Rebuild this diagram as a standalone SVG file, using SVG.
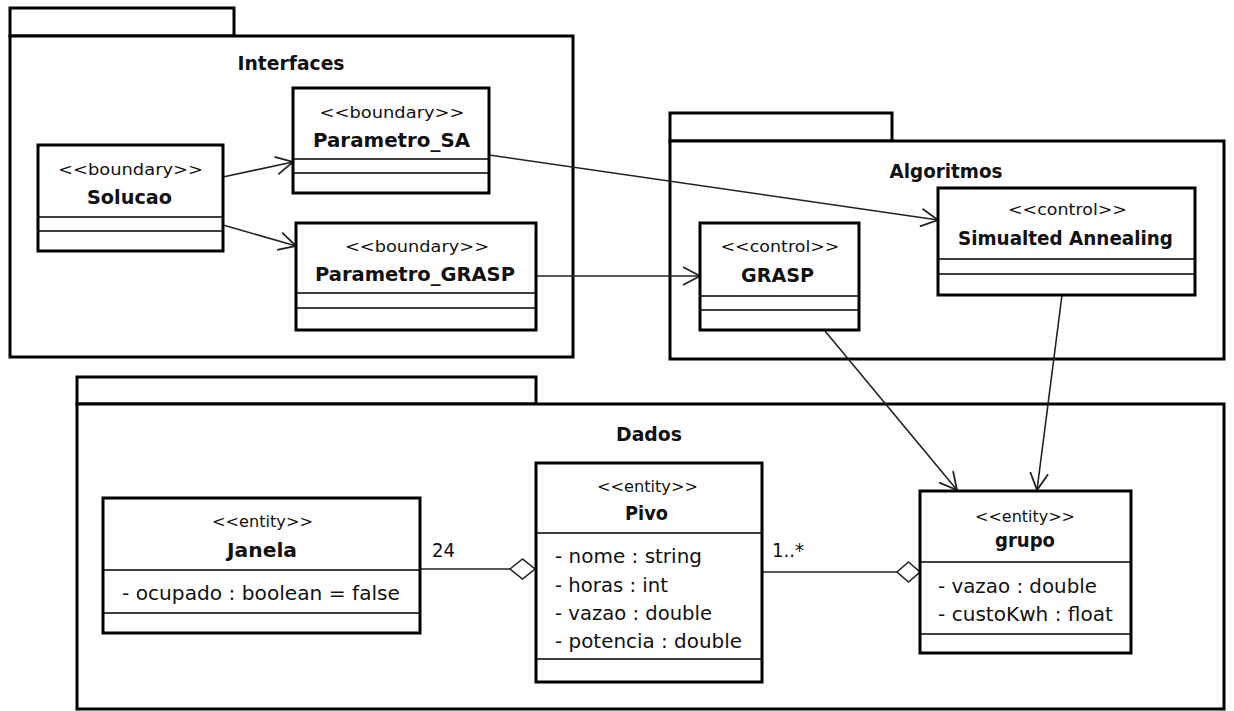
<svg xmlns="http://www.w3.org/2000/svg" width="1234" height="711" viewBox="0 0 1234 711">
<style>
  .pkg { fill: #fff; stroke: #000; stroke-width: 3; }
  .box { fill: #fff; stroke: #000; stroke-width: 3; }
  .sep { stroke: #000; stroke-width: 1.5; }
  .con { stroke: #222; stroke-width: 1.6; fill: none; }
  .dia { stroke: #222; stroke-width: 1.6; fill: #fff; }
  text { font-family: "DejaVu Sans", "Liberation Sans", sans-serif; fill: #111; }
  .ster { font-size: 15px; text-anchor: middle; }
  .name { font-size: 19px; font-weight: bold; text-anchor: middle; }
  .title { font-size: 19px; font-weight: bold; text-anchor: middle; }
  .attr { font-size: 19px; }
  .lbl { font-size: 19px; }
</style>
<defs>
  <marker id="open" markerUnits="userSpaceOnUse" markerWidth="24" markerHeight="24" viewBox="-20 -12 24 24" refX="0" refY="0" orient="auto">
    <path d="M-17,-9 L0,0 L-17,9" fill="none" stroke="#222" stroke-width="1.8"/>
  </marker>
</defs>
<rect width="1234" height="711" fill="#fff"/>

<g id="pkg-interfaces">
  <rect class="pkg" x="10" y="8" width="224" height="28"/>
  <rect class="pkg" x="10" y="36" width="563" height="321"/>
  <text class="title" x="291" y="70" textLength="107" lengthAdjust="spacingAndGlyphs">Interfaces</text>
</g>
<g id="pkg-algoritmos">
  <rect class="pkg" x="670" y="113" width="222" height="28"/>
  <rect class="pkg" x="670" y="141" width="554" height="218"/>
  <text class="title" x="946" y="178" textLength="113" lengthAdjust="spacingAndGlyphs">Algoritmos</text>
</g>
<g id="pkg-dados">
  <rect class="pkg" x="77" y="377" width="459" height="27"/>
  <rect class="pkg" x="77" y="404" width="1147" height="305"/>
  <text class="title" x="649" y="441" textLength="66" lengthAdjust="spacingAndGlyphs">Dados</text>
</g>

<g id="connectors">
  <line class="con" x1="223" y1="177" x2="293" y2="162" marker-end="url(#open)"/>
  <line class="con" x1="223" y1="225" x2="296" y2="246" marker-end="url(#open)"/>
  <line class="con" x1="489" y1="155" x2="938" y2="220" marker-end="url(#open)"/>
  <line class="con" x1="536" y1="276" x2="700" y2="276" marker-end="url(#open)"/>
  <line class="con" x1="825" y1="331" x2="957" y2="490" marker-end="url(#open)"/>
  <line class="con" x1="1062" y1="295" x2="1037" y2="490" marker-end="url(#open)"/>
  <line class="con" x1="420" y1="569" x2="510" y2="569"/>
  <polygon class="dia" points="510,569 522.5,559 535,569 522.5,579"/>
  <line class="con" x1="762" y1="572" x2="897" y2="572"/>
  <polygon class="dia" points="897,572 908.5,562 920,572 908.5,582"/>
  <text class="lbl" x="432" y="557" textLength="23" lengthAdjust="spacingAndGlyphs">24</text>
  <text class="lbl" x="772" y="557" textLength="32" lengthAdjust="spacingAndGlyphs">1..*</text>
</g>

<g id="solucao">
  <rect class="box" x="38" y="145" width="185" height="106"/>
  <line class="sep" x1="38" y1="217" x2="223" y2="217"/>
  <line class="sep" x1="38" y1="231" x2="223" y2="231"/>
  <text class="ster" x="130.5" y="175" textLength="145" lengthAdjust="spacingAndGlyphs">&lt;&lt;boundary&gt;&gt;</text>
  <text class="name" x="129.5" y="204" textLength="85" lengthAdjust="spacingAndGlyphs">Solucao</text>
</g>
<g id="parametro-sa">
  <rect class="box" x="293" y="88" width="196" height="105"/>
  <line class="sep" x1="293" y1="159" x2="489" y2="159"/>
  <line class="sep" x1="293" y1="173" x2="489" y2="173"/>
  <text class="ster" x="392" y="118" textLength="145" lengthAdjust="spacingAndGlyphs">&lt;&lt;boundary&gt;&gt;</text>
  <text class="name" x="391.5" y="147" textLength="157" lengthAdjust="spacingAndGlyphs">Parametro_SA</text>
</g>
<g id="parametro-grasp">
  <rect class="box" x="296" y="223" width="240" height="107"/>
  <line class="sep" x1="296" y1="293" x2="536" y2="293"/>
  <line class="sep" x1="296" y1="308" x2="536" y2="308"/>
  <text class="ster" x="417" y="252" textLength="144" lengthAdjust="spacingAndGlyphs">&lt;&lt;boundary&gt;&gt;</text>
  <text class="name" x="415" y="281" textLength="200" lengthAdjust="spacingAndGlyphs">Parametro_GRASP</text>
</g>
<g id="grasp">
  <rect class="box" x="700" y="223" width="159" height="107"/>
  <line class="sep" x1="700" y1="296" x2="859" y2="296"/>
  <line class="sep" x1="700" y1="310" x2="859" y2="310"/>
  <text class="ster" x="780" y="252" textLength="119" lengthAdjust="spacingAndGlyphs">&lt;&lt;control&gt;&gt;</text>
  <text class="name" x="777.5" y="282" textLength="73" lengthAdjust="spacingAndGlyphs">GRASP</text>
</g>
<g id="simulated-annealing">
  <rect class="box" x="938" y="188" width="257" height="107"/>
  <line class="sep" x1="938" y1="259" x2="1195" y2="259"/>
  <line class="sep" x1="938" y1="274" x2="1195" y2="274"/>
  <text class="ster" x="1067.5" y="215" textLength="119" lengthAdjust="spacingAndGlyphs">&lt;&lt;control&gt;&gt;</text>
  <text class="name" x="1065.5" y="245" textLength="215" lengthAdjust="spacingAndGlyphs">Simualted Annealing</text>
</g>
<g id="janela">
  <rect class="box" x="103" y="498" width="317" height="135"/>
  <line class="sep" x1="103" y1="570" x2="420" y2="570"/>
  <line class="sep" x1="103" y1="613" x2="420" y2="613"/>
  <text class="ster" x="262.5" y="527" textLength="101" lengthAdjust="spacingAndGlyphs">&lt;&lt;entity&gt;&gt;</text>
  <text class="name" x="262" y="557" textLength="70" lengthAdjust="spacingAndGlyphs">Janela</text>
  <text class="attr" x="122" y="600" textLength="278" lengthAdjust="spacingAndGlyphs">- ocupado : boolean = false</text>
</g>
<g id="pivo">
  <rect class="box" x="536" y="463" width="226" height="219"/>
  <line class="sep" x1="536" y1="533" x2="762" y2="533"/>
  <line class="sep" x1="536" y1="659" x2="762" y2="659"/>
  <text class="ster" x="647.5" y="492" textLength="101" lengthAdjust="spacingAndGlyphs">&lt;&lt;entity&gt;&gt;</text>
  <text class="name" x="646.5" y="520" textLength="43" lengthAdjust="spacingAndGlyphs">Pivo</text>
  <text class="attr" x="555" y="563" textLength="147" lengthAdjust="spacingAndGlyphs">- nome : string</text>
  <text class="attr" x="555" y="592" textLength="113" lengthAdjust="spacingAndGlyphs">- horas : int</text>
  <text class="attr" x="555" y="620" textLength="157" lengthAdjust="spacingAndGlyphs">- vazao : double</text>
  <text class="attr" x="555" y="648" textLength="187" lengthAdjust="spacingAndGlyphs">- potencia : double</text>
</g>
<g id="grupo">
  <rect class="box" x="920" y="491" width="211" height="162"/>
  <line class="sep" x1="920" y1="562" x2="1131" y2="562"/>
  <line class="sep" x1="920" y1="634" x2="1131" y2="634"/>
  <text class="ster" x="1025" y="522" textLength="100" lengthAdjust="spacingAndGlyphs">&lt;&lt;entity&gt;&gt;</text>
  <text class="name" x="1025" y="547" textLength="60" lengthAdjust="spacingAndGlyphs">grupo</text>
  <text class="attr" x="938" y="593" textLength="159" lengthAdjust="spacingAndGlyphs">- vazao : double</text>
  <text class="attr" x="938" y="621" textLength="175" lengthAdjust="spacingAndGlyphs">- custoKwh : float</text>
</g>
</svg>
